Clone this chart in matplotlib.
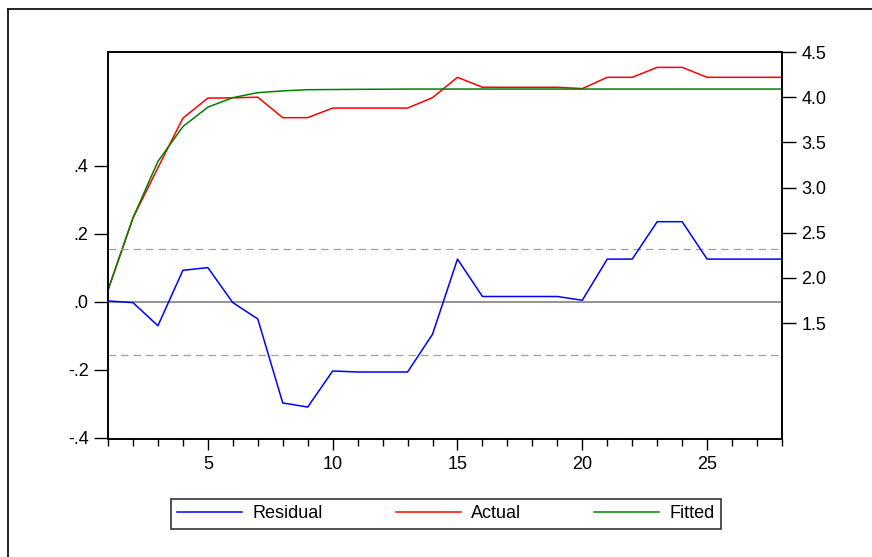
import numpy as np
import matplotlib.pyplot as plt
from matplotlib.lines import Line2D
from matplotlib.ticker import FixedLocator, MultipleLocator, FuncFormatter

plt.rcParams['font.family'] = ['Liberation Sans', 'DejaVu Sans']

# data
obs = np.arange(1, 29)
residual = [0.003, -0.002, -0.07, 0.093, 0.101, -0.002, -0.05, -0.297, -0.309, -0.203,
            -0.206, -0.206, -0.206, -0.095, 0.126, 0.016, 0.016, 0.016, 0.016, 0.005,
            0.126, 0.126, 0.236, 0.236, 0.126, 0.126, 0.126, 0.126]
actual = [1.868, 2.663, 3.22, 3.768, 3.99, 3.993, 4.0, 3.773, 3.774, 3.88,
          3.88, 3.88, 3.88, 3.995, 4.22, 4.11, 4.11, 4.11, 4.11, 4.095,
          4.22, 4.22, 4.33, 4.33, 4.22, 4.22, 4.22, 4.22]
fitted = [1.865, 2.665, 3.29, 3.675, 3.89, 3.995, 4.05, 4.07, 4.083, 4.085,
          4.087, 4.088, 4.09, 4.09, 4.09, 4.09, 4.09, 4.09, 4.09, 4.09,
          4.09, 4.09, 4.09, 4.09, 4.09, 4.09, 4.09, 4.09]
se = 0.157
left_ticks = [-0.4, -0.2, 0.0, 0.2, 0.4]
right_ticks = [1.5, 2.0, 2.5, 3.0, 3.5, 4.0, 4.5]

fig = plt.figure(figsize=(8.72, 5.57), dpi=100)
ax = fig.add_axes([108 / 872, 118 / 557, 674 / 872, 387 / 557])
ax2 = ax.twinx()

# residual on left axis
ax.axhline(0, color='#808080', lw=1.2, zorder=1)
ax.axhline(se, color='#a0a0a0', lw=0.9, ls=(0, (6, 4)), zorder=1)
ax.axhline(-se, color='#a0a0a0', lw=0.9, ls=(0, (6, 4)), zorder=1)
l1, = ax.plot(obs, residual, color='#0000ff', lw=1.1, zorder=3)
ax.set_ylim(-0.403, 0.735)
ax.set_xlim(1, 28)

# actual / fitted on right axis
l2, = ax2.plot(obs, actual, color='#ff0000', lw=1.1)
l3, = ax2.plot(obs, fitted, color='#008000', lw=1.1)
ax2.set_ylim(0.219, 4.5)

ax.set_zorder(ax2.get_zorder() + 1)
ax.patch.set_visible(False)

fsize = 13
ax.yaxis.set_major_locator(FixedLocator(left_ticks))
ax.yaxis.set_major_formatter(FuncFormatter(lambda v, p: ('%.1f' % v).replace('0.', '.')))
ax2.yaxis.set_major_locator(FixedLocator(right_ticks))
ax2.yaxis.set_major_formatter(FuncFormatter(lambda v, p: '%.1f' % v))
ax.xaxis.set_major_locator(FixedLocator([5, 10, 15, 20, 25]))
ax.xaxis.set_minor_locator(MultipleLocator(1))

ax.tick_params(axis='y', direction='out', length=10, width=1, labelsize=fsize, pad=4)
ax2.tick_params(axis='y', direction='out', length=10, width=1, labelsize=fsize, pad=4)
ax.tick_params(axis='x', which='major', direction='out', length=8, width=1, labelsize=fsize, pad=4)
ax.tick_params(axis='x', which='minor', direction='out', length=5, width=1)

for a in (ax, ax2):
    for s in a.spines.values():
        s.set_linewidth(1.2)

# outer frame
fig.add_artist(Line2D([8 / 872, 8 / 872], [-0.01, 1 - 9 / 557], color='black', lw=1.2))
fig.add_artist(Line2D([8 / 872, 1.01], [1 - 9 / 557, 1 - 9 / 557], color='black', lw=1.2))

leg = fig.legend([l1, l2, l3], ['Residual', 'Actual', 'Fitted'], ncol=3,
                 loc='center', bbox_to_anchor=(446 / 872, 43 / 557),
                 fontsize=fsize, frameon=True, fancybox=False, handlelength=3.6,
                 columnspacing=4.0, borderpad=0.35, handletextpad=0.6)
leg.get_frame().set_edgecolor('black')
leg.get_frame().set_linewidth(1.2)

fig.savefig('out.png', dpi=100)
